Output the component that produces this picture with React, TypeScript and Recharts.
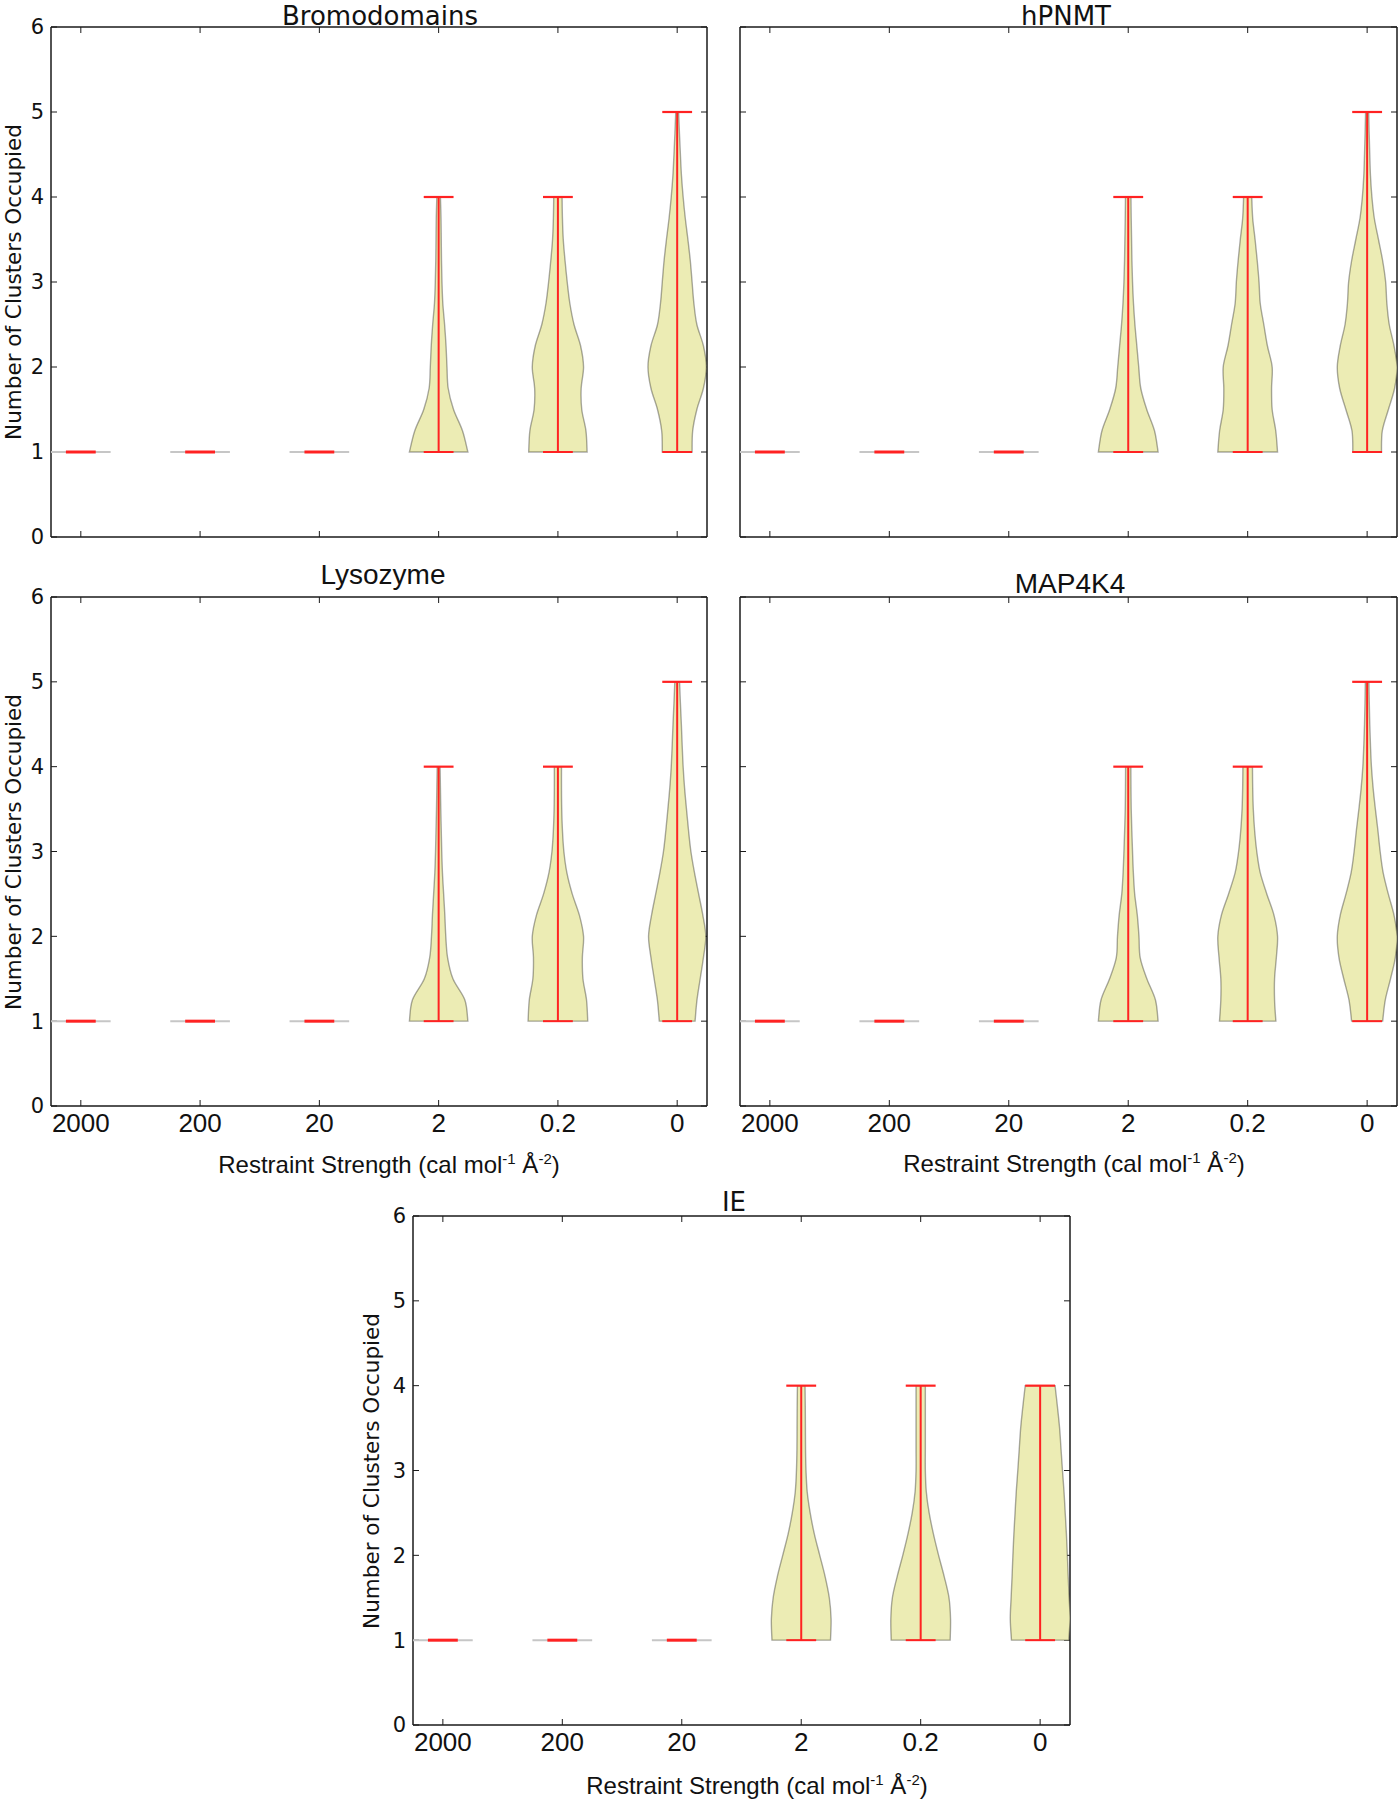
import React from 'react';
import { ComposedChart, XAxis, YAxis, Scatter } from 'recharts';

// ---------- data ----------
const CATEGORIES = ['2000', '200', '20', '2', '0.2', '0'];
const POSITIONS = [1, 2, 3, 4, 5, 6];
const Y_TICKS = [0, 1, 2, 3, 4, 5, 6];
// y levels at which violin half-widths (in category units) were read
const LEVELS = [1, 1.25, 1.5, 1.75, 2, 2.25, 2.5, 2.75, 3, 3.25, 3.5, 3.75, 4, 4.25, 4.5, 4.75, 5];

// Bromodomains
const BROMO_MIN = [1, 1, 1, 1, 1, 1];
const BROMO_MAX = [1, 1, 1, 4, 4, 5];
const BROMO_W_2 = [0.245, 0.2, 0.125, 0.08, 0.07, 0.062, 0.05, 0.035, 0.028, 0.024, 0.022, 0.02, 0.015];
const BROMO_W_02 = [0.245, 0.235, 0.2, 0.195, 0.215, 0.19, 0.135, 0.1, 0.078, 0.06, 0.045, 0.038, 0.035];
const BROMO_W_0 = [0.125, 0.13, 0.165, 0.22, 0.245, 0.22, 0.165, 0.14, 0.125, 0.11, 0.09, 0.068, 0.05, 0.036, 0.027, 0.019, 0.012];

// hPNMT
const HPNMT_MIN = [1, 1, 1, 1, 1, 1];
const HPNMT_MAX = [1, 1, 1, 4, 4, 5];
const HPNMT_W_2 = [0.25, 0.22, 0.155, 0.105, 0.088, 0.072, 0.056, 0.044, 0.036, 0.031, 0.028, 0.025, 0.023];
const HPNMT_W_02 = [0.25, 0.235, 0.205, 0.2, 0.205, 0.165, 0.135, 0.105, 0.095, 0.08, 0.062, 0.042, 0.034];
const HPNMT_W_0 = [0.12, 0.127, 0.178, 0.23, 0.25, 0.225, 0.185, 0.165, 0.155, 0.13, 0.095, 0.06, 0.04, 0.028, 0.022, 0.017, 0.013];

// Lysozyme
const LYSO_MIN = [1, 1, 1, 1, 1, 1];
const LYSO_MAX = [1, 1, 1, 4, 4, 5];
const LYSO_W_2 = [0.245, 0.22, 0.12, 0.075, 0.06, 0.052, 0.042, 0.032, 0.026, 0.022, 0.018, 0.015, 0.012];
const LYSO_W_02 = [0.25, 0.24, 0.21, 0.205, 0.215, 0.18, 0.12, 0.075, 0.05, 0.038, 0.032, 0.03, 0.03];
const LYSO_W_0 = [0.15, 0.166, 0.193, 0.22, 0.24, 0.215, 0.18, 0.145, 0.115, 0.095, 0.078, 0.062, 0.05, 0.042, 0.035, 0.027, 0.02];

// MAP4K4
const MAP_MIN = [1, 1, 1, 1, 1, 1];
const MAP_MAX = [1, 1, 1, 4, 4, 5];
const MAP_W_2 = [0.25, 0.228, 0.156, 0.1, 0.09, 0.076, 0.054, 0.043, 0.036, 0.03, 0.025, 0.023, 0.022];
const MAP_W_02 = [0.236, 0.225, 0.225, 0.24, 0.25, 0.22, 0.16, 0.105, 0.076, 0.058, 0.047, 0.042, 0.04];
const MAP_W_0 = [0.13, 0.152, 0.196, 0.236, 0.25, 0.225, 0.177, 0.134, 0.109, 0.09, 0.069, 0.05, 0.036, 0.028, 0.022, 0.018, 0.015];

// IE
const IE_MIN = [1, 1, 1, 1, 1, 1];
const IE_MAX = [1, 1, 1, 4, 4, 4];
const IE_W_2 = [0.245, 0.25, 0.235, 0.2, 0.155, 0.11, 0.075, 0.05, 0.04, 0.036, 0.035, 0.034, 0.032];
const IE_W_02 = [0.247, 0.25, 0.237, 0.197, 0.15, 0.107, 0.071, 0.047, 0.039, 0.039, 0.039, 0.039, 0.039];
const IE_W_0 = [0.24, 0.25, 0.243, 0.235, 0.228, 0.22, 0.21, 0.2, 0.187, 0.175, 0.163, 0.145, 0.125];

// ---------- layout ----------
const PANELS = [
  { key: 'bromo', title: 'Bromodomains', min: BROMO_MIN, max: BROMO_MAX, widths: [[], [], [], BROMO_W_2, BROMO_W_02, BROMO_W_0],
    x: 51, y: 27, w: 656, h: 510, xLabels: false, yLabels: true },
  { key: 'hpnmt', title: 'hPNMT', min: HPNMT_MIN, max: HPNMT_MAX, widths: [[], [], [], HPNMT_W_2, HPNMT_W_02, HPNMT_W_0],
    x: 740, y: 27, w: 657, h: 510, xLabels: false, yLabels: false },
  { key: 'lyso', title: 'Lysozyme', min: LYSO_MIN, max: LYSO_MAX, widths: [[], [], [], LYSO_W_2, LYSO_W_02, LYSO_W_0],
    x: 51, y: 597, w: 656, h: 509, xLabels: true, yLabels: true },
  { key: 'map', title: 'MAP4K4', min: MAP_MIN, max: MAP_MAX, widths: [[], [], [], MAP_W_2, MAP_W_02, MAP_W_0],
    x: 740, y: 597, w: 657, h: 509, xLabels: true, yLabels: false },
  { key: 'ie', title: 'IE', min: IE_MIN, max: IE_MAX, widths: [[], [], [], IE_W_2, IE_W_02, IE_W_0],
    x: 413, y: 1216, w: 657, h: 509, xLabels: true, yLabels: true },
];

const AX = '#1a1a1a';
const RED = '#ff2222';
const noShape = () => <g />;

function violinPoints(pos: number, w: number[]) {
  const left = w.map((hw, k) => ({ x: pos - hw, y: LEVELS[k] }));
  const right = w.map((hw, k) => ({ x: pos + hw, y: LEVELS[k] })).reverse();
  return [...left, ...right];
}

function spline(p: { x: number; y: number }[]) {
  let d = '';
  for (let i = 0; i < p.length - 1; i++) {
    const p0 = p[i - 1] || p[i];
    const p1 = p[i];
    const p2 = p[i + 1];
    const p3 = p[i + 2] || p2;
    const c1x = p1.x + (p2.x - p0.x) / 6;
    const c1y = p1.y + (p2.y - p0.y) / 6;
    const c2x = p2.x - (p3.x - p1.x) / 6;
    const c2y = p2.y - (p3.y - p1.y) / 6;
    d += `C${c1x},${c1y} ${c2x},${c2y} ${p2.x},${p2.y}`;
  }
  return d;
}

const renderViolin = (props: any) => {
  const pts = (props.points || []).filter((q: any) => q && q.x != null && q.y != null);
  if (pts.length < 4) return <g />;
  const n = pts.length / 2;
  const left = pts.slice(0, n);
  const right = pts.slice(n);
  const d = `M${left[0].x},${left[0].y}` + spline(left) + `L${right[0].x},${right[0].y}` + spline(right) + 'Z';
  return <path d={d} fill="#ececb4" stroke="rgba(0,0,0,0.33)" strokeWidth={1.4} />;
};

function segment(key: string, a: { x: number; y: number }, b: { x: number; y: number }, stroke: string, width: number) {
  return (
    <Scatter
      key={key}
      data={[a, b]}
      xAxisId="b"
      yAxisId="l"
      dataKey="y"
      isAnimationActive={false}
      shape={noShape}
      line={{ stroke, strokeWidth: width }}
      legendType="none"
    />
  );
}

function Panel({ p }: { p: any }) {
  const L = 50, R = 8, T = 20, B = 50;
  const W = L + p.w + R;
  const H = T + p.h + B;
  const bodies: any[] = [];
  const reds: any[] = [];
  POSITIONS.forEach((pos, i) => {
    const lo = p.min[i];
    const hi = p.max[i];
    const w = p.widths[i];
    if (hi > lo && w.length) {
      bodies.push(
        <Scatter
          key={`v${i}`}
          data={violinPoints(pos, w)}
          xAxisId="b"
          yAxisId="l"
          dataKey="y"
          isAnimationActive={false}
          shape={noShape}
          line={renderViolin}
          legendType="none"
        />
      );
      reds.push(segment(`bar${i}`, { x: pos, y: lo }, { x: pos, y: hi }, RED, 2));
      reds.push(segment(`mn${i}`, { x: pos - 0.125, y: lo }, { x: pos + 0.125, y: lo }, RED, 2));
      reds.push(segment(`mx${i}`, { x: pos - 0.125, y: hi }, { x: pos + 0.125, y: hi }, RED, 2.2));
    } else {
      bodies.push(segment(`g${i}`, { x: pos - 0.25, y: lo }, { x: pos + 0.25, y: lo }, '#c6c6c6', 2));
      reds.push(segment(`r${i}`, { x: pos - 0.125, y: lo }, { x: pos + 0.125, y: lo }, RED, 3));
    }
  });
  const lineStyle = { stroke: AX, strokeWidth: 1 };
  const axisStyle = { stroke: AX, strokeWidth: 1.5 };
  const blank = () => '';
  return (
    <div style={{ position: 'absolute', left: p.x - L, top: p.y - T }}>
      <ComposedChart width={W} height={H} margin={{ top: 0, right: 0, bottom: 0, left: 0 }}>
        <XAxis
          xAxisId="b"
          orientation="bottom"
          type="number"
          dataKey="x"
          domain={[0.75, 6.25]}
          ticks={POSITIONS}
          interval={0}
          allowDataOverflow
          height={B}
          tickSize={-6}
          tickMargin={14}
          tickFormatter={p.xLabels ? (v: number) => CATEGORIES[v - 1] : blank}
          tick={{ fontSize: 26, fontFamily: 'Liberation Sans', fill: '#111' }}
          tickLine={lineStyle}
          axisLine={axisStyle}
        />
        <XAxis
          xAxisId="t"
          orientation="top"
          type="number"
          dataKey="x"
          domain={[0.75, 6.25]}
          ticks={POSITIONS}
          interval={0}
          allowDataOverflow
          height={T}
          tickSize={-6}
          tickFormatter={blank}
          tickLine={lineStyle}
          axisLine={axisStyle}
        />
        <YAxis
          yAxisId="l"
          orientation="left"
          type="number"
          dataKey="y"
          domain={[0, 6]}
          ticks={Y_TICKS}
          interval={0}
          allowDataOverflow
          width={L}
          tickSize={-6}
          tickMargin={13}
          tickFormatter={p.yLabels ? (v: number) => String(v) : blank}
          tick={{ fontSize: 21, fontFamily: 'DejaVu Sans', fill: '#111' }}
          tickLine={lineStyle}
          axisLine={axisStyle}
        />
        <YAxis
          yAxisId="r"
          orientation="right"
          type="number"
          dataKey="y"
          domain={[0, 6]}
          ticks={Y_TICKS}
          interval={0}
          allowDataOverflow
          width={R}
          tickSize={-6}
          tickFormatter={blank}
          tickLine={lineStyle}
          axisLine={axisStyle}
        />
        {bodies}
        {reds}
      </ComposedChart>
    </div>
  );
}

function XLabel({ x, y }: { x: number; y: number }) {
  return (
    <text x={x} y={y} textAnchor="middle" fontFamily="Liberation Sans" fontSize={24} fill="#111">
      {'Restraint Strength (cal mol'}
      <tspan fontSize={15} dy={-9}>{'-1'}</tspan>
      <tspan dy={9}>{' \u00C5'}</tspan>
      <tspan fontSize={15} dy={-9}>{'-2'}</tspan>
      <tspan dy={9}>{')'}</tspan>
    </text>
  );
}

function YLabel({ x, y }: { x: number; y: number }) {
  return (
    <text
      transform={`translate(${x},${y}) rotate(-90)`}
      textAnchor="middle"
      fontFamily="DejaVu Sans"
      fontSize={21.5}
      fill="#111"
    >
      Number of Clusters Occupied
    </text>
  );
}

export default function App() {
  return (
    <div style={{ position: 'absolute', left: 0, top: 0, width: 1399, height: 1800, background: '#fff', overflow: 'hidden' }}>
      {PANELS.map((p) => (
        <Panel key={p.key} p={p} />
      ))}
      <svg width={1399} height={1800} style={{ position: 'absolute', left: 0, top: 0, pointerEvents: 'none' }}>
        <text x={380} y={24.5} textAnchor="middle" fontFamily="DejaVu Sans" fontSize={26} fill="#111">Bromodomains</text>
        <text x={1066} y={24.5} textAnchor="middle" fontFamily="DejaVu Sans" fontSize={26} fill="#111">hPNMT</text>
        <text x={383} y={584} textAnchor="middle" fontFamily="Liberation Sans" fontSize={28} fill="#111">Lysozyme</text>
        <text x={1070} y={593} textAnchor="middle" fontFamily="Liberation Sans" fontSize={28} fill="#111">MAP4K4</text>
        <text x={734} y={1211} textAnchor="middle" fontFamily="DejaVu Sans" fontSize={26} fill="#111">IE</text>
        <YLabel x={20.5} y={282} />
        <YLabel x={20.5} y={852} />
        <YLabel x={379} y={1471} />
        <XLabel x={389} y={1173} />
        <XLabel x={1074} y={1172} />
        <XLabel x={757} y={1794} />
      </svg>
    </div>
  );
}
